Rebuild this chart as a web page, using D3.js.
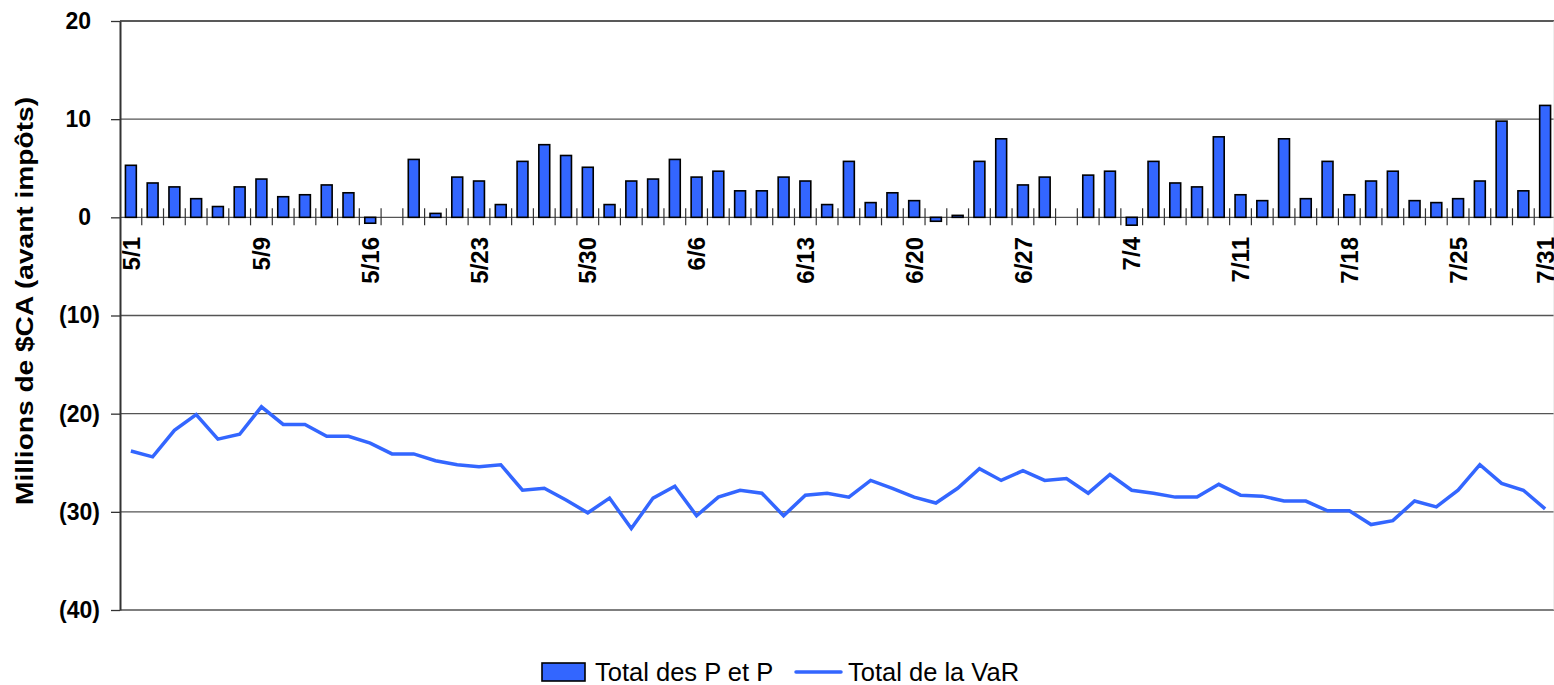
<!DOCTYPE html>
<html>
<head>
<meta charset="utf-8">
<script src="https://cdn.jsdelivr.net/npm/d3@7"></script>
<style>
  body { margin: 0; background: #fff; }
  svg { display: block; font-family: Arial, "Liberation Sans", sans-serif; }
</style>
</head>
<body>
<div id="chart"></div>
<script>
// trading days, May 1 to July 31
var dates = [
  "5/1","5/2","5/5","5/6","5/7","5/8","5/9","5/12","5/13","5/14","5/15","5/16",
  "5/19","5/20","5/21","5/22","5/23","5/26","5/27","5/28","5/29","5/30",
  "6/2","6/3","6/4","6/5","6/6","6/9","6/10","6/11","6/12","6/13","6/16","6/17",
  "6/18","6/19","6/20","6/23","6/24","6/25","6/26","6/27","6/30",
  "7/1","7/2","7/3","7/4","7/7","7/8","7/9","7/10","7/11","7/14","7/15","7/16",
  "7/17","7/18","7/21","7/22","7/23","7/24","7/25","7/28","7/29","7/30","7/31"
];

// Total des P et P (null = holiday)
var pnl = [
  5.3, 3.5, 3.1, 1.9, 1.1, 3.1, 3.9, 2.1, 2.3, 3.3, 2.5, -0.6,
  null, 5.9, 0.4, 4.1, 3.7, 1.3, 5.7, 7.4, 6.3, 5.1,
  1.3, 3.7, 3.9, 5.9, 4.1, 4.7, 2.7, 2.7, 4.1, 3.7, 1.3, 5.7,
  1.5, 2.5, 1.7, -0.4, 0.2, 5.7, 8.0, 3.3, 4.1,
  null, 4.3, 4.7, -0.8, 5.7, 3.5, 3.1, 8.2, 2.3, 1.7, 8.0, 1.9,
  5.7, 2.3, 3.7, 4.7, 1.7, 1.5, 1.9, 3.7, 9.8, 2.7, 11.4
];

// Total de la VaR
var varTotal = [
  -23.8, -24.4, -21.7, -20.1, -22.6, -22.1, -19.3, -21.1, -21.1, -22.3, -22.3, -23.0,
  -24.1, -24.1, -24.8, -25.2, -25.4, -25.2, -27.8, -27.6, -28.8, -30.1,
  -28.6, -31.7, -28.6, -27.4, -30.4, -28.5, -27.8, -28.1, -30.4, -28.3, -28.1, -28.5,
  -26.8, -27.6, -28.5, -29.1, -27.6, -25.6, -26.8, -25.8, -26.8,
  -26.6, -28.1, -26.2, -27.8, -28.1, -28.5, -28.5, -27.2, -28.3, -28.4, -28.9, -28.9,
  -29.9, -29.9, -31.3, -30.9, -28.9, -29.5, -27.8, -25.2, -27.1, -27.8, -29.7
];

var dateLabels = ["5/1","5/9","5/16","5/23","5/30","6/6","6/13","6/20","6/27","7/4","7/11","7/18","7/25","7/31"];
var yTicks = [20, 10, 0, -10, -20, -30, -40];
var seriesNames = ["Total des P et P", "Total de la VaR"];
var yTitle = "Millions de $CA (avant impôts)";

var svgWidth = 1554;
var svgHeight = 685;
var plotLeft = 120, plotRight = 1556, plotTop = 21, plotBottom = 610;
var blue = "#3366ff";

var svg = d3.select("#chart")
  .append("svg")
  .attr("width", svgWidth)
  .attr("height", svgHeight);

var x = d3.scaleBand()
  .domain(dates)
  .range([plotLeft, plotRight])
  .paddingInner(0.5)
  .paddingOuter(0.25);

var y = d3.scaleLinear()
  .domain([-40, 20])
  .range([plotBottom, plotTop]);

var step = x.step();
var bw = x.bandwidth();

// gridlines
svg.append("g")
  .selectAll("line")
  .data(yTicks)
  .enter().append("line")
  .attr("x1", plotLeft)
  .attr("x2", plotRight - 2)
  .attr("y1", d => y(d))
  .attr("y2", d => y(d))
  .attr("stroke", d => d == 20 ? "#222" : "#555")
  .attr("stroke-width", 1.3);

// faint right border
svg.append("line")
  .attr("x1", plotRight - 2).attr("x2", plotRight - 2)
  .attr("y1", plotTop).attr("y2", plotBottom)
  .attr("stroke", "#ddd");

// left axis
var leftAxis = d3.axisLeft(y)
  .tickValues(yTicks)
  .tickSize(9)
  .tickSizeOuter(0)
  .tickPadding(11)
  .tickFormat(d => d < 0 ? "(" + (-d) + ")" : d);

var yAxisG = svg.append("g")
  .attr("transform", `translate(${plotLeft},0)`)
  .call(leftAxis);
yAxisG.select(".domain").attr("stroke", "#333").attr("stroke-width", 2);
yAxisG.selectAll(".tick line").attr("stroke", "#333").attr("stroke-width", 1.3);
yAxisG.selectAll(".tick text")
  .attr("font-size", 23)
  .attr("font-weight", "bold")
  .attr("font-family", "Arial, 'Liberation Sans', sans-serif")
  .attr("fill", "#000")
  .attr("dx", d => d < 0 ? 0 : -9);

// category ticks crossing the zero line
var y0 = y(0);
svg.append("g")
  .selectAll("line")
  .data(dates.slice(1))
  .enter().append("line")
  .attr("x1", d => x(d) + bw / 2 - step / 2)
  .attr("x2", d => x(d) + bw / 2 - step / 2)
  .attr("y1", y0 - 9)
  .attr("y2", y0 + 8)
  .attr("stroke", "#333")
  .attr("stroke-width", 1.2);

// bars
var barData = dates.map((d, i) => ({ date: d, value: pnl[i] })).filter(d => d.value !== null);
svg.append("g")
  .selectAll("rect")
  .data(barData)
  .enter().append("rect")
  .attr("x", d => x(d.date))
  .attr("width", bw)
  .attr("y", d => y(Math.max(0, d.value)))
  .attr("height", d => Math.abs(y(d.value) - y0))
  .attr("fill", blue)
  .attr("stroke", "#000")
  .attr("stroke-width", 1.6);

// VaR line
var drawLine = d3.line()
  .x((d, i) => x(dates[i]) + bw / 2)
  .y(d => y(d));

svg.append("path")
  .attr("d", drawLine(varTotal))
  .attr("fill", "none")
  .attr("stroke", blue)
  .attr("stroke-width", 3.5)
  .attr("stroke-linejoin", "miter");

// date labels
svg.append("g")
  .selectAll("text")
  .data(dateLabels)
  .enter().append("text")
  .attr("transform", d => `translate(${x(d) + bw / 2}, 237) rotate(-90)`)
  .attr("text-anchor", "end")
  .attr("dy", "0.36em")
  .attr("font-size", 24)
  .attr("font-weight", "bold")
  .text(d => d);

// y title
svg.append("text")
  .attr("transform", "translate(25, 301) rotate(-90)")
  .attr("text-anchor", "middle")
  .attr("dy", "0.36em")
  .attr("font-size", 23)
  .attr("font-weight", "bold")
  .attr("textLength", 408)
  .attr("lengthAdjust", "spacingAndGlyphs")
  .text(yTitle);

// legend
var legend = svg.append("g");
legend.append("rect")
  .attr("x", 542).attr("y", 663)
  .attr("width", 43).attr("height", 18)
  .attr("fill", blue)
  .attr("stroke", "#000")
  .attr("stroke-width", 1.6);
legend.append("text")
  .attr("x", 595).attr("y", 681)
  .attr("font-size", 25.5)
  .text(seriesNames[0]);
legend.append("line")
  .attr("x1", 796).attr("x2", 841)
  .attr("y1", 672).attr("y2", 672)
  .attr("stroke", blue)
  .attr("stroke-width", 3.5)
  .attr("stroke-linecap", "round");
legend.append("text")
  .attr("x", 848).attr("y", 681)
  .attr("font-size", 25.5)
  .text(seriesNames[1]);
</script>
</body>
</html>
